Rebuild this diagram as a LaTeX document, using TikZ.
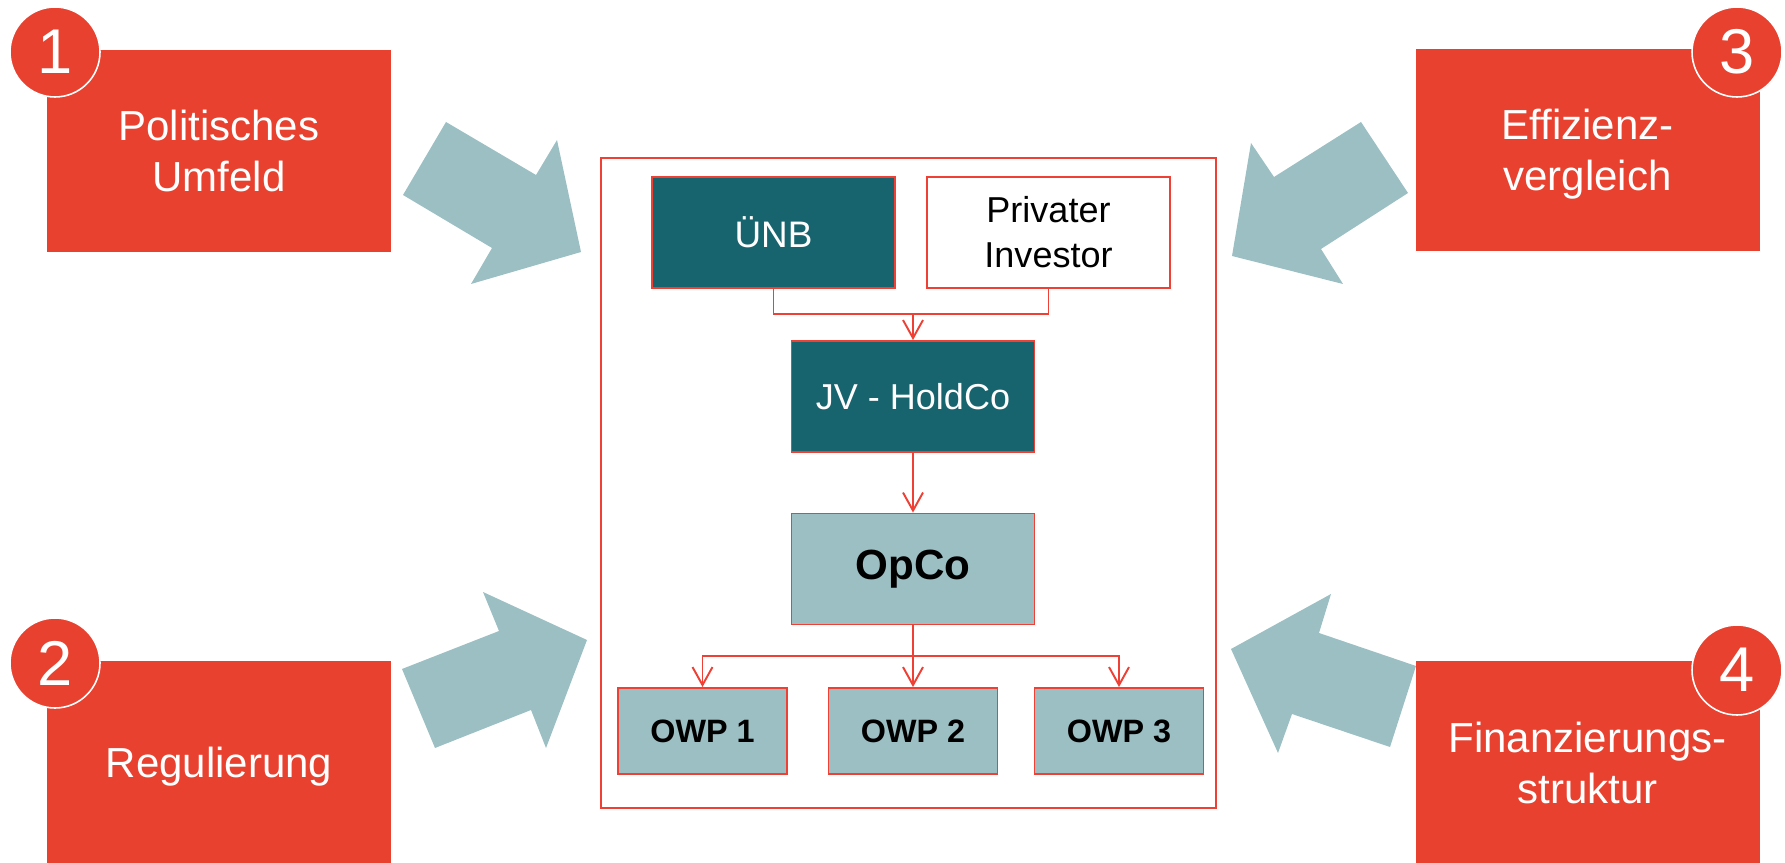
\documentclass[tikz,border=0pt]{standalone}
\usepackage{fontspec}
\setsansfont{Liberation Sans}
\usetikzlibrary{arrows.meta,positioning}
\definecolor{facRed}{HTML}{E8412F}
\definecolor{facLine}{HTML}{EE4035}
\definecolor{facTeal}{HTML}{18646E}
\definecolor{facMist}{HTML}{9BBFC3}
\tikzset{
  every picture/.style={font=\sffamily},
  topic box/.style={fill=facRed, text=white, align=center, inner sep=0pt,
    minimum width=68.8mm, minimum height=40.4mm, text depth=0pt,
    font=\sffamily\fontsize{23.9pt}{29pt}\selectfont},
  topic num/.style={circle, fill=facRed, draw=white, line width=0.9pt,
    text=white, inner sep=0pt, minimum size=18mm,
    font=\sffamily\fontsize{36pt}{36pt}\selectfont},
  influence arrow/.style={fill=facMist},
  org frame/.style={draw=facLine, line width=1.1pt},
  org box/.style={draw=facLine, line width=1.1pt, align=center, inner sep=0pt,
    minimum width=48.6mm, minimum height=22.2mm,
    font=\sffamily\fontsize{20.5pt}{25.6pt}\selectfont},
  owp box/.style={org box, fill=facMist, minimum width=33.8mm, minimum height=17.2mm,
    font=\sffamily\bfseries\fontsize{18.4pt}{20pt}\selectfont},
  org link/.style={draw=facLine, line width=1.1pt},
  org arrow/.style={org link, -{Straight Barb[length=3.6mm,width=4mm]}}
}

\begin{document}
\begin{tikzpicture}[x=0.2mm,y=0.2mm]
  \useasboundingbox (0,0) rectangle (1785,863);

  % influence arrows
  \fill[influence arrow] (403,668) -- (446,741) -- (536,688) -- (557,723) -- (581,611) -- (471,579) -- (492,615) -- cycle;
  \fill[influence arrow] (402,194) -- (499,232) -- (483,271) -- (587,223) -- (546,115) -- (531,153) -- (435,115) -- cycle;
  \fill[influence arrow] (1408,670) -- (1361,741) -- (1274,686) -- (1251,720) -- (1232,607) -- (1343,579) -- (1321,614) -- cycle;
  \fill[influence arrow] (1416,197) -- (1390,116) -- (1292,149) -- (1278,110) -- (1231,214) -- (1331,269) -- (1319,230) -- cycle;

  % topics
  \node[topic box] (politik) at (219,712) {Politisches\\Umfeld};
  \node[topic box] (regul) at (219,100.5) {Regulierung};
  \node[topic box] (effizienz) at (1587.5,713) {Effizienz-\\vergleich};
  \node[topic box] (finanz) at (1587.5,100.5) {Finanzierungs-\\struktur};
  \node[topic num] (n1) at (55,811) {1};
  \node[topic num] (n2) at (55,200) {2};
  \node[topic num] (n3) at (1737,811) {3};
  \node[topic num] (n4) at (1737,193) {4};

  % structure
  \draw[org frame] (601,55) rectangle (1216,705);
  \node[org box, fill=facTeal, text=white, font=\sffamily\fontsize{21pt}{25pt}\selectfont] (unb) at (773.5,630.5) {ÜNB};
  \node[org box, fill=white] (inv) at (1048.5,630.5) {Privater\\Investor};
  \node[org box, fill=facTeal, text=white] (jv) at (913,466.5) {JV - HoldCo};
  \node[org box, fill=facMist, font=\sffamily\bfseries\fontsize{24pt}{28pt}\selectfont] (opco) at (913,294) {OpCo};
  \foreach \i/\x in {1/702.5,2/913,3/1119}
    \node[owp box] (owp\i) at (\x,132) {OWP \i};

  \coordinate (join) at (913,549);
  \coordinate (split) at (913,207);
  \draw[org link] (unb.south) |- (join) -| (inv.south);
  \draw[org arrow] (join) -- (jv.north);
  \draw[org arrow] (jv) -- (opco);
  \draw[org arrow] (opco) -- (owp2);
  \draw[org arrow] (split) -| (owp1.north);
  \draw[org arrow] (split) -| (owp3.north);
\end{tikzpicture}
\end{document}
